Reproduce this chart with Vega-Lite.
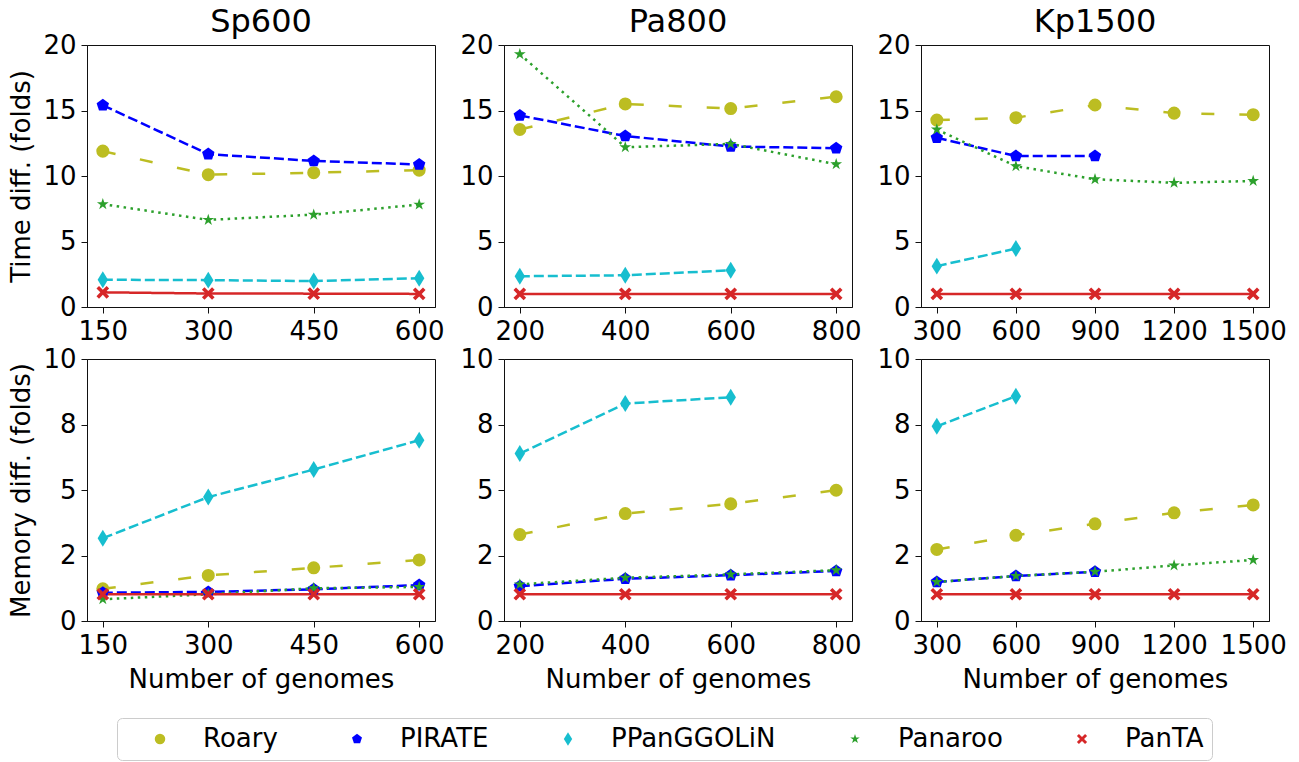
{
  "$schema": "https://vega.github.io/schema/vega-lite/v6.json",
  "padding": {"left": 8, "top": 5, "right": 5, "bottom": 0},
  "background": "white",
  "data": {"values": [
    {"ds":"Sp600","m":"time","tool":"Roary","n":150,"v":11.9},
    {"ds":"Sp600","m":"time","tool":"Roary","n":300,"v":10.1},
    {"ds":"Sp600","m":"time","tool":"Roary","n":450,"v":10.25},
    {"ds":"Sp600","m":"time","tool":"Roary","n":600,"v":10.45},
    {"ds":"Sp600","m":"time","tool":"PIRATE","n":150,"v":15.4},
    {"ds":"Sp600","m":"time","tool":"PIRATE","n":300,"v":11.67},
    {"ds":"Sp600","m":"time","tool":"PIRATE","n":450,"v":11.15},
    {"ds":"Sp600","m":"time","tool":"PIRATE","n":600,"v":10.88},
    {"ds":"Sp600","m":"time","tool":"PPanGGOLiN","n":150,"v":2.08},
    {"ds":"Sp600","m":"time","tool":"PPanGGOLiN","n":300,"v":2.05},
    {"ds":"Sp600","m":"time","tool":"PPanGGOLiN","n":450,"v":1.98},
    {"ds":"Sp600","m":"time","tool":"PPanGGOLiN","n":600,"v":2.2},
    {"ds":"Sp600","m":"time","tool":"Panaroo","n":150,"v":7.85},
    {"ds":"Sp600","m":"time","tool":"Panaroo","n":300,"v":6.65},
    {"ds":"Sp600","m":"time","tool":"Panaroo","n":450,"v":7.05},
    {"ds":"Sp600","m":"time","tool":"Panaroo","n":600,"v":7.82},
    {"ds":"Sp600","m":"time","tool":"PanTA","n":150,"v":1.12},
    {"ds":"Sp600","m":"time","tool":"PanTA","n":300,"v":1.03},
    {"ds":"Sp600","m":"time","tool":"PanTA","n":450,"v":1.02},
    {"ds":"Sp600","m":"time","tool":"PanTA","n":600,"v":1.0},

    {"ds":"Pa800","m":"time","tool":"Roary","n":200,"v":13.55},
    {"ds":"Pa800","m":"time","tool":"Roary","n":400,"v":15.5},
    {"ds":"Pa800","m":"time","tool":"Roary","n":600,"v":15.15},
    {"ds":"Pa800","m":"time","tool":"Roary","n":800,"v":16.05},
    {"ds":"Pa800","m":"time","tool":"PIRATE","n":200,"v":14.62},
    {"ds":"Pa800","m":"time","tool":"PIRATE","n":400,"v":13.05},
    {"ds":"Pa800","m":"time","tool":"PIRATE","n":600,"v":12.25},
    {"ds":"Pa800","m":"time","tool":"PIRATE","n":800,"v":12.12},
    {"ds":"Pa800","m":"time","tool":"PPanGGOLiN","n":200,"v":2.35},
    {"ds":"Pa800","m":"time","tool":"PPanGGOLiN","n":400,"v":2.42},
    {"ds":"Pa800","m":"time","tool":"PPanGGOLiN","n":600,"v":2.8},
    {"ds":"Pa800","m":"time","tool":"Panaroo","n":200,"v":19.3},
    {"ds":"Pa800","m":"time","tool":"Panaroo","n":400,"v":12.2},
    {"ds":"Pa800","m":"time","tool":"Panaroo","n":600,"v":12.45},
    {"ds":"Pa800","m":"time","tool":"Panaroo","n":800,"v":10.9},
    {"ds":"Pa800","m":"time","tool":"PanTA","n":200,"v":1.0},
    {"ds":"Pa800","m":"time","tool":"PanTA","n":400,"v":1.0},
    {"ds":"Pa800","m":"time","tool":"PanTA","n":600,"v":1.0},
    {"ds":"Pa800","m":"time","tool":"PanTA","n":800,"v":1.0},

    {"ds":"Kp1500","m":"time","tool":"Roary","n":300,"v":14.27},
    {"ds":"Kp1500","m":"time","tool":"Roary","n":600,"v":14.45},
    {"ds":"Kp1500","m":"time","tool":"Roary","n":900,"v":15.42},
    {"ds":"Kp1500","m":"time","tool":"Roary","n":1200,"v":14.8},
    {"ds":"Kp1500","m":"time","tool":"Roary","n":1500,"v":14.68},
    {"ds":"Kp1500","m":"time","tool":"PIRATE","n":300,"v":12.92},
    {"ds":"Kp1500","m":"time","tool":"PIRATE","n":600,"v":11.52},
    {"ds":"Kp1500","m":"time","tool":"PIRATE","n":900,"v":11.52},
    {"ds":"Kp1500","m":"time","tool":"PPanGGOLiN","n":300,"v":3.12},
    {"ds":"Kp1500","m":"time","tool":"PPanGGOLiN","n":600,"v":4.46},
    {"ds":"Kp1500","m":"time","tool":"Panaroo","n":300,"v":13.55},
    {"ds":"Kp1500","m":"time","tool":"Panaroo","n":600,"v":10.75},
    {"ds":"Kp1500","m":"time","tool":"Panaroo","n":900,"v":9.75},
    {"ds":"Kp1500","m":"time","tool":"Panaroo","n":1200,"v":9.48},
    {"ds":"Kp1500","m":"time","tool":"Panaroo","n":1500,"v":9.62},
    {"ds":"Kp1500","m":"time","tool":"PanTA","n":300,"v":1.0},
    {"ds":"Kp1500","m":"time","tool":"PanTA","n":600,"v":1.0},
    {"ds":"Kp1500","m":"time","tool":"PanTA","n":900,"v":1.0},
    {"ds":"Kp1500","m":"time","tool":"PanTA","n":1200,"v":1.0},
    {"ds":"Kp1500","m":"time","tool":"PanTA","n":1500,"v":1.0},

    {"ds":"Sp600","m":"mem","tool":"Roary","n":150,"v":1.23},
    {"ds":"Sp600","m":"mem","tool":"Roary","n":300,"v":1.74},
    {"ds":"Sp600","m":"mem","tool":"Roary","n":450,"v":2.03},
    {"ds":"Sp600","m":"mem","tool":"Roary","n":600,"v":2.33},
    {"ds":"Sp600","m":"mem","tool":"PIRATE","n":150,"v":1.08},
    {"ds":"Sp600","m":"mem","tool":"PIRATE","n":300,"v":1.11},
    {"ds":"Sp600","m":"mem","tool":"PIRATE","n":450,"v":1.21},
    {"ds":"Sp600","m":"mem","tool":"PIRATE","n":600,"v":1.37},
    {"ds":"Sp600","m":"mem","tool":"PPanGGOLiN","n":150,"v":3.16},
    {"ds":"Sp600","m":"mem","tool":"PPanGGOLiN","n":300,"v":4.73},
    {"ds":"Sp600","m":"mem","tool":"PPanGGOLiN","n":450,"v":5.78},
    {"ds":"Sp600","m":"mem","tool":"PPanGGOLiN","n":600,"v":6.9},
    {"ds":"Sp600","m":"mem","tool":"Panaroo","n":150,"v":0.83},
    {"ds":"Sp600","m":"mem","tool":"Panaroo","n":300,"v":1.02},
    {"ds":"Sp600","m":"mem","tool":"Panaroo","n":450,"v":1.25},
    {"ds":"Sp600","m":"mem","tool":"Panaroo","n":600,"v":1.3},
    {"ds":"Sp600","m":"mem","tool":"PanTA","n":150,"v":1.02},
    {"ds":"Sp600","m":"mem","tool":"PanTA","n":300,"v":1.02},
    {"ds":"Sp600","m":"mem","tool":"PanTA","n":450,"v":1.02},
    {"ds":"Sp600","m":"mem","tool":"PanTA","n":600,"v":1.02},

    {"ds":"Pa800","m":"mem","tool":"Roary","n":200,"v":3.3},
    {"ds":"Pa800","m":"mem","tool":"Roary","n":400,"v":4.1},
    {"ds":"Pa800","m":"mem","tool":"Roary","n":600,"v":4.47},
    {"ds":"Pa800","m":"mem","tool":"Roary","n":800,"v":4.99},
    {"ds":"Pa800","m":"mem","tool":"PIRATE","n":200,"v":1.33},
    {"ds":"Pa800","m":"mem","tool":"PIRATE","n":400,"v":1.61},
    {"ds":"Pa800","m":"mem","tool":"PIRATE","n":600,"v":1.75},
    {"ds":"Pa800","m":"mem","tool":"PIRATE","n":800,"v":1.91},
    {"ds":"Pa800","m":"mem","tool":"PPanGGOLiN","n":200,"v":6.39},
    {"ds":"Pa800","m":"mem","tool":"PPanGGOLiN","n":400,"v":8.3},
    {"ds":"Pa800","m":"mem","tool":"PPanGGOLiN","n":600,"v":8.54},
    {"ds":"Pa800","m":"mem","tool":"Panaroo","n":200,"v":1.4},
    {"ds":"Pa800","m":"mem","tool":"Panaroo","n":400,"v":1.65},
    {"ds":"Pa800","m":"mem","tool":"Panaroo","n":600,"v":1.78},
    {"ds":"Pa800","m":"mem","tool":"Panaroo","n":800,"v":1.94},
    {"ds":"Pa800","m":"mem","tool":"PanTA","n":200,"v":1.02},
    {"ds":"Pa800","m":"mem","tool":"PanTA","n":400,"v":1.02},
    {"ds":"Pa800","m":"mem","tool":"PanTA","n":600,"v":1.02},
    {"ds":"Pa800","m":"mem","tool":"PanTA","n":800,"v":1.02},

    {"ds":"Kp1500","m":"mem","tool":"Roary","n":300,"v":2.73},
    {"ds":"Kp1500","m":"mem","tool":"Roary","n":600,"v":3.27},
    {"ds":"Kp1500","m":"mem","tool":"Roary","n":900,"v":3.71},
    {"ds":"Kp1500","m":"mem","tool":"Roary","n":1200,"v":4.13},
    {"ds":"Kp1500","m":"mem","tool":"Roary","n":1500,"v":4.43},
    {"ds":"Kp1500","m":"mem","tool":"PIRATE","n":300,"v":1.49},
    {"ds":"Kp1500","m":"mem","tool":"PIRATE","n":600,"v":1.72},
    {"ds":"Kp1500","m":"mem","tool":"PIRATE","n":900,"v":1.88},
    {"ds":"Kp1500","m":"mem","tool":"PPanGGOLiN","n":300,"v":7.43},
    {"ds":"Kp1500","m":"mem","tool":"PPanGGOLiN","n":600,"v":8.58},
    {"ds":"Kp1500","m":"mem","tool":"Panaroo","n":300,"v":1.49},
    {"ds":"Kp1500","m":"mem","tool":"Panaroo","n":600,"v":1.72},
    {"ds":"Kp1500","m":"mem","tool":"Panaroo","n":900,"v":1.88},
    {"ds":"Kp1500","m":"mem","tool":"Panaroo","n":1200,"v":2.12},
    {"ds":"Kp1500","m":"mem","tool":"Panaroo","n":1500,"v":2.33},
    {"ds":"Kp1500","m":"mem","tool":"PanTA","n":300,"v":1.02},
    {"ds":"Kp1500","m":"mem","tool":"PanTA","n":600,"v":1.02},
    {"ds":"Kp1500","m":"mem","tool":"PanTA","n":900,"v":1.02},
    {"ds":"Kp1500","m":"mem","tool":"PanTA","n":1200,"v":1.02},
    {"ds":"Kp1500","m":"mem","tool":"PanTA","n":1500,"v":1.02}
  ]},
  "columns": 3,
  "bounds": "flush",
  "spacing": {"row": 52, "column": 69},
  "concat": [
    {
      "title": "Sp600", "width": 348, "height": 262,
      "transform": [{"filter": "datum.ds === 'Sp600' && datum.m === 'time'"}],
      "encoding": {
        "x": {"field": "n", "type": "quantitative", "scale": {"domain": [127.5, 622.5], "nice": false, "zero": false}, "axis": {"values": [150, 300, 450, 600], "title": null}},
        "y": {"field": "v", "type": "quantitative", "scale": {"domain": [0, 20], "nice": false}, "axis": {"values": [0, 5, 10, 15, 20], "title": "Time diff. (folds)"}},
        "color": {"field": "tool", "type": "nominal", "scale": {"domain": ["Roary", "PIRATE", "PPanGGOLiN", "Panaroo", "PanTA"], "range": ["#bcbd22", "#0000ff", "#17becf", "#2ca02c", "#d62728"]}, "legend": {"title": null}}
      },
      "layer": [
        {"mark": {"type": "line", "strokeWidth": 2.5}, "encoding": {"strokeDash": {"field": "tool", "type": "nominal", "legend": null, "scale": {"domain": ["Roary", "PIRATE", "PPanGGOLiN", "Panaroo", "PanTA"], "range": [[13, 25], [10, 4], [10, 4], [2.5, 4.5], [1, 0]]}}}},
        {"mark": {"type": "point", "filled": true, "opacity": 1, "size": 170}, "encoding": {"shape": {"field": "tool", "type": "nominal", "legend": null, "scale": {"domain": ["Roary", "PIRATE", "PPanGGOLiN", "Panaroo", "PanTA"], "range": ["circle", "M0,-1L0.951,-0.309L0.588,0.809L-0.588,0.809L-0.951,-0.309Z", "M0,-1.3L0.8,0L0,1.3L-0.8,0Z", "M0,-0.95L0.213,-0.294L0.904,-0.294L0.345,0.112L0.558,0.769L0,0.363L-0.558,0.769L-0.345,0.112L-0.904,-0.294L-0.213,-0.294Z", "M0.972,-0.583L0.389,0L0.972,0.583L0.583,0.972L0,0.389L-0.583,0.972L-0.972,0.583L-0.389,0L-0.972,-0.583L-0.583,-0.972L0,-0.389L0.583,-0.972Z"]}}}}
      ]
    },
    {
      "title": "Pa800", "width": 348, "height": 262,
      "transform": [{"filter": "datum.ds === 'Pa800' && datum.m === 'time'"}],
      "encoding": {
        "x": {"field": "n", "type": "quantitative", "scale": {"domain": [170, 830], "nice": false, "zero": false}, "axis": {"values": [200, 400, 600, 800], "title": null}},
        "y": {"field": "v", "type": "quantitative", "scale": {"domain": [0, 20], "nice": false}, "axis": {"values": [0, 5, 10, 15, 20], "title": null}},
        "color": {"field": "tool", "type": "nominal"}
      },
      "layer": [
        {"mark": {"type": "line", "strokeWidth": 2.5}, "encoding": {"strokeDash": {"field": "tool", "type": "nominal", "legend": null}}},
        {"mark": {"type": "point", "filled": true, "opacity": 1, "size": 170}, "encoding": {"shape": {"field": "tool", "type": "nominal", "legend": null}}}
      ]
    },
    {
      "title": "Kp1500", "width": 348, "height": 262,
      "transform": [{"filter": "datum.ds === 'Kp1500' && datum.m === 'time'"}],
      "encoding": {
        "x": {"field": "n", "type": "quantitative", "scale": {"domain": [240, 1560], "nice": false, "zero": false}, "axis": {"values": [300, 600, 900, 1200, 1500], "format": "d", "title": null}},
        "y": {"field": "v", "type": "quantitative", "scale": {"domain": [0, 20], "nice": false}, "axis": {"values": [0, 5, 10, 15, 20], "title": null}},
        "color": {"field": "tool", "type": "nominal"}
      },
      "layer": [
        {"mark": {"type": "line", "strokeWidth": 2.5}, "encoding": {"strokeDash": {"field": "tool", "type": "nominal", "legend": null}}},
        {"mark": {"type": "point", "filled": true, "opacity": 1, "size": 170}, "encoding": {"shape": {"field": "tool", "type": "nominal", "legend": null}}}
      ]
    },
    {
      "width": 348, "height": 262,
      "transform": [{"filter": "datum.ds === 'Sp600' && datum.m === 'mem'"}],
      "encoding": {
        "x": {"field": "n", "type": "quantitative", "scale": {"domain": [127.5, 622.5], "nice": false, "zero": false}, "axis": {"values": [150, 300, 450, 600], "title": "Number of genomes"}},
        "y": {"field": "v", "type": "quantitative", "scale": {"domain": [0, 10], "nice": false}, "axis": {"values": [0, 2.5, 5, 7.5, 10], "labelExpr": "datum.value == 2.5 ? '2' : datum.value == 7.5 ? '8' : datum.label", "title": "Memory diff. (folds)"}},
        "color": {"field": "tool", "type": "nominal"}
      },
      "layer": [
        {"mark": {"type": "line", "strokeWidth": 2.5}, "encoding": {"strokeDash": {"field": "tool", "type": "nominal", "legend": null}}},
        {"mark": {"type": "point", "filled": true, "opacity": 1, "size": 170}, "encoding": {"shape": {"field": "tool", "type": "nominal", "legend": null}}}
      ]
    },
    {
      "width": 348, "height": 262,
      "transform": [{"filter": "datum.ds === 'Pa800' && datum.m === 'mem'"}],
      "encoding": {
        "x": {"field": "n", "type": "quantitative", "scale": {"domain": [170, 830], "nice": false, "zero": false}, "axis": {"values": [200, 400, 600, 800], "title": "Number of genomes"}},
        "y": {"field": "v", "type": "quantitative", "scale": {"domain": [0, 10], "nice": false}, "axis": {"values": [0, 2.5, 5, 7.5, 10], "labelExpr": "datum.value == 2.5 ? '2' : datum.value == 7.5 ? '8' : datum.label", "title": null}},
        "color": {"field": "tool", "type": "nominal"}
      },
      "layer": [
        {"mark": {"type": "line", "strokeWidth": 2.5}, "encoding": {"strokeDash": {"field": "tool", "type": "nominal", "legend": null}}},
        {"mark": {"type": "point", "filled": true, "opacity": 1, "size": 170}, "encoding": {"shape": {"field": "tool", "type": "nominal", "legend": null}}}
      ]
    },
    {
      "width": 348, "height": 262,
      "transform": [{"filter": "datum.ds === 'Kp1500' && datum.m === 'mem'"}],
      "encoding": {
        "x": {"field": "n", "type": "quantitative", "scale": {"domain": [240, 1560], "nice": false, "zero": false}, "axis": {"values": [300, 600, 900, 1200, 1500], "format": "d", "title": "Number of genomes"}},
        "y": {"field": "v", "type": "quantitative", "scale": {"domain": [0, 10], "nice": false}, "axis": {"values": [0, 2.5, 5, 7.5, 10], "labelExpr": "datum.value == 2.5 ? '2' : datum.value == 7.5 ? '8' : datum.label", "title": null}},
        "color": {"field": "tool", "type": "nominal"}
      },
      "layer": [
        {"mark": {"type": "line", "strokeWidth": 2.5}, "encoding": {"strokeDash": {"field": "tool", "type": "nominal", "legend": null}}},
        {"mark": {"type": "point", "filled": true, "opacity": 1, "size": 170}, "encoding": {"shape": {"field": "tool", "type": "nominal", "legend": null}}}
      ]
    }
  ],
  "resolve": {"scale": {"color": "shared", "shape": "shared", "strokeDash": "shared"}, "legend": {"color": "shared"}},
  "config": {
    "font": "DejaVu Sans",
    "view": {"stroke": "#111", "strokeWidth": 1},
    "title": {"fontSize": 32, "fontWeight": "normal", "font": "DejaVu Sans", "color": "black", "offset": -7},
    "axis": {
      "grid": false, "labelFontSize": 26, "titleFontSize": 26, "titleFontWeight": "normal",
      "labelColor": "black", "titleColor": "black", "tickColor": "#111", "domainColor": "#111",
      "tickSize": 6, "labelPadding": 5, "titlePadding": 8, "labelFont": "DejaVu Sans", "titleFont": "DejaVu Sans",
      "labelFlush": false, "labelOverlap": false
    },
    "legend": {
      "orient": "none", "legendX": 30, "legendY": 673, "direction": "horizontal", "columns": 5,
      "labelFontSize": 26, "labelFont": "DejaVu Sans", "labelColor": "black", "labelLimit": 400,
      "symbolSize": 110, "symbolOffset": 22, "labelOffset": 30, "columnPadding": 44, "padding": 8,
      "strokeColor": "#cccccc", "fillColor": "white", "cornerRadius": 5,
      "symbolStrokeWidth": 0
    }
  }
}
